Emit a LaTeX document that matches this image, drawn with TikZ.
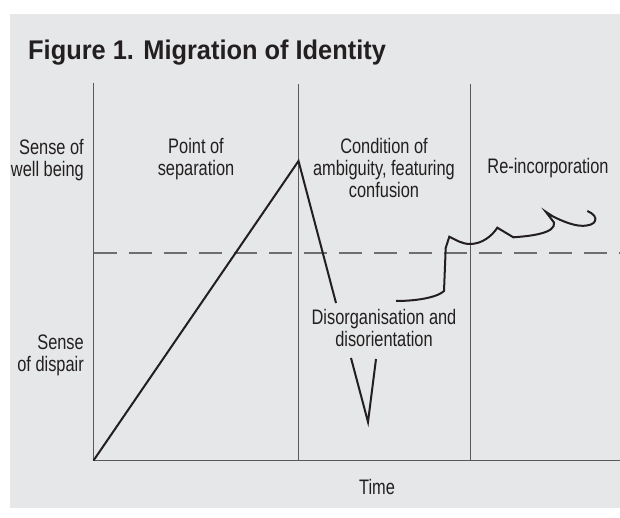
\documentclass[tikz,border=0pt]{standalone}
\usepackage{fontspec}
\setmainfont{Liberation Sans}[FakeStretch=0.78]
\newfontfamily\titlefont{Liberation Sans}[FakeStretch=0.94]
\definecolor{bggray}{HTML}{E6E7E8}
\definecolor{ink}{HTML}{231F20}
\definecolor{axisgray}{HTML}{58595B}
\definecolor{dashgray}{HTML}{6D6E70}
\begin{document}
\begin{tikzpicture}[x=1pt,y=-1pt,
  lbl/.style={inner sep=0pt, text=ink, font=\fontsize{21}{22}\selectfont, align=center},
  axisline/.style={draw=axisgray, line width=1.1pt},
  refline/.style={draw=dashgray, line width=1.1pt, dash pattern=on 23pt off 12pt},
  trace/.style={draw=ink, line width=2pt, line join=miter}]
\useasboundingbox (0,0) rectangle (620,518);
\fill[bggray] (10,14) rectangle (620,508);
% title
\node[anchor=base west, inner sep=0pt, text=ink, font=\titlefont\bfseries\fontsize{27}{30}\selectfont] (title) at (28,60) {Figure 1. Migration of Identity};
% axes and dividers
\coordinate (o) at (93.5,460.5);
\coordinate (ytop) at (93.5,83);
\coordinate (xend) at (620,460.5);
\coordinate (d1top) at (298.5,84);
\coordinate (d1bot) at (298.5,460.5);
\coordinate (d2top) at (470.5,84);
\coordinate (d2bot) at (470.5,460.5);
\coordinate (hl) at (93.5,253);
\coordinate (hr) at (620,253);
\draw[axisline] (ytop) -- (o) -- (xend);
\draw[axisline] (d1top) -- (d1bot);
\draw[axisline] (d2top) -- (d2bot);
\draw[refline] (hl) -- (hr);
% labels
\node[lbl, anchor=north east, align=right] (wellbeing) at (84,138.7) {Sense of\\well being};
\node[lbl, anchor=north east, align=right] (despair) at (84,334.7) {Sense\\of dispair};
\node[lbl, anchor=north] (sep) at (196,137.7) {Point of\\separation};
\node[lbl, anchor=north] (amb) at (384,137.7) {Condition of\\ambiguity, featuring\\confusion};
\node[lbl, anchor=base] (reinc) at (548,174) {Re-incorporation};
\node[lbl, anchor=north] (disorg) at (384,308.7) {Disorganisation and\\disorientation};
\node[lbl, anchor=base] (time) at (377,494) {Time};
% trace points
\coordinate (peak) at (298.5,161);
\coordinate (fall) at (336,303);
\coordinate (va) at (351,358);
\coordinate (vb) at (368,422);
\coordinate (vc) at (376,359);
\coordinate (c0) at (396,301);
\coordinate (c1) at (444,291);
\coordinate (c2) at (445.7,248);
\coordinate (c3) at (449.3,236.7);
\coordinate (c4) at (470,244);
\coordinate (c5) at (497.3,227.7);
\coordinate (c6) at (513.3,237.3);
\coordinate (c7) at (554,222.5);
\coordinate (c8) at (545.7,211.7);
\coordinate (c9) at (553,216.5);
\coordinate (c10) at (580,225.7);
\coordinate (c11) at (587.3,211);
% trace
\draw[trace] (o) -- (peak) -- (fall);
\draw[trace] (va) -- (vb) -- (vc);
\draw[trace] (c0) .. controls (418,301) and (438,297) .. (c1) -- (c2) -- (c3)
  .. controls (456,240) and (462,244) .. (c4)
  .. controls (482,244) and (492,236) .. (c5) -- (c6)
  .. controls (532,236) and (556,233) .. (c7) -- (c8) -- (c9)
  .. controls (562,221) and (572,225) .. (c10)
  .. controls (598,227) and (600,216) .. (c11);
\end{tikzpicture}
\end{document}
